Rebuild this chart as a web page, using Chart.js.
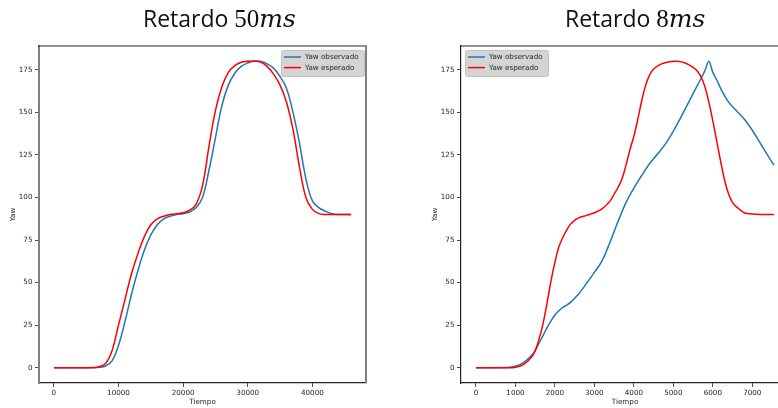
<!DOCTYPE html>
<html>
<head>
<meta charset="utf-8">
<script src="https://cdn.jsdelivr.net/npm/chart.js@4.4.1/dist/chart.umd.min.js"></script>
<style>
  html, body { margin: 0; padding: 0; background: #fff; }
  body { width: 778px; height: 408px; overflow: hidden; position: relative; }
  canvas { position: absolute; top: 0; }
  #c50 { left: 0; }
  #c8 { left: 422px; }
</style>
</head>
<body>
<canvas id="c50" width="389" height="408"></canvas>
<canvas id="c8" width="390" height="408"></canvas>
<script>
// 50 ms delay run
const t50 = [0, 1000, 2000, 3000, 4000, 5000, 6000, 7000, 8000, 9000,
  10000, 11000, 12000, 13000, 14000, 15000, 16000, 17000, 18000, 19000,
  20000, 21000, 22000, 23000, 24000, 25000, 26000, 27000, 28000, 29000,
  30000, 31000, 32000, 33000, 34000, 35000, 36000, 37000, 38000, 39000,
  40000, 41000, 42000, 43000, 44000, 45000, 46000];
const esperado50 = [0, 0, 0, 0, 0, 0, 0.1, 0.6, 2.5, 10,
  25, 40, 55, 67, 77, 84, 87.5, 89, 90, 90.5,
  91, 92.5, 96, 107, 130, 151, 165, 173.5, 177.5, 179.5,
  180, 180.2, 179.5, 177, 172.5, 166, 156, 140, 118, 100,
  93, 90.5, 90, 90, 90, 90, 90];
const observado50 = [0, 0, 0, 0, 0, 0, 0, 0.2, 1, 4,
  13, 27, 43, 57, 69, 78, 84, 87.5, 89, 90,
  90.5, 91.5, 94, 100, 116, 135, 154, 166, 173, 177,
  179, 180, 180, 178.5, 176, 171, 164, 150, 132, 111,
  98, 94, 92, 90.5, 90, 90, 90];

// 8 ms delay run
const tEsperado8 = [0, 800, 1000, 1200, 1400, 1500, 1600, 1700, 1800, 1900,
  2000, 2100, 2200, 2300, 2400, 2500, 2600, 2800, 3000, 3200,
  3400, 3500, 3600, 3700, 3800, 3900, 4000, 4100, 4200, 4300,
  4400, 4500, 4700, 4900, 5100, 5300, 5500, 5600, 5700, 5800,
  5900, 6000, 6100, 6200, 6300, 6400, 6500, 6600, 6800, 7000,
  7200, 7550];
const esperado8 = [0, 0, 0.3, 1.8, 6, 10, 17, 26, 38, 51,
  62, 71, 76.5, 81, 84.5, 86.5, 88, 89.5, 91, 93.5,
  98, 102, 106, 111, 119, 128, 136, 146, 157, 166,
  172, 175.5, 178.5, 179.8, 180, 179, 176.5, 174.5, 171, 165,
  156, 145, 133, 121, 110, 102, 97, 94.5, 91, 90.3,
  90, 90];
const tObservado8 = [0, 800, 1000, 1200, 1400, 1500, 1600, 1700, 1800, 1900,
  2000, 2100, 2200, 2300, 2400, 2500, 2600, 2800, 3000, 3200,
  3400, 3600, 3800, 4000, 4200, 4400, 4600, 4800, 5000, 5200,
  5400, 5600, 5800, 5900, 6000, 6100, 6200, 6400, 6600, 6800,
  7000, 7200, 7400, 7550];
const observado8 = [0, 0.1, 0.8, 3, 7, 10, 14.5, 19, 23.5, 27.5,
  31, 33.5, 35.5, 36.8, 38.5, 40.8, 43.3, 49.5, 56, 63,
  74, 86, 97, 105.5, 113, 120, 125.5, 131.5, 139, 147.5,
  156.5, 165.5, 174.5, 180, 173.5, 169, 164, 156, 151, 146,
  139.5, 132, 124.5, 119];

const yTicks = [0, 25, 50, 75, 100, 125, 150, 175];
const xTicks50 = [0, 10000, 20000, 30000, 40000];
const xTicks8 = [0, 1000, 2000, 3000, 4000, 5000, 6000, 7000];
const seriesNames = ['Yaw observado', 'Yaw esperado'];

const BLUE = '#1f77b4';
const RED = '#ff0000';
const tickFont = { family: 'DejaVu Sans', size: 7.2 };
const textColor = '#1e1e1e';

const pts = (xs, ys) => xs.map((x, i) => ({ x: x, y: ys[i] }));

// top + right spines (chart.js only draws the axis borders)
const frame = {
  id: 'frame',
  afterDraw(chart, args, o) {
    const { ctx, chartArea: a } = chart;
    ctx.save();
    ctx.strokeStyle = '#222';
    ctx.lineWidth = 1.2;
    ctx.beginPath(); ctx.moveTo(a.left - 1, a.top); ctx.lineTo(a.right + 1, a.top); ctx.stroke();
    ctx.strokeStyle = o.sideColor;
    ctx.lineWidth = o.sideWidth;
    ctx.beginPath(); ctx.moveTo(a.right, a.top); ctx.lineTo(a.right, a.bottom); ctx.stroke();
    ctx.restore();
  }
};

// title with the unit set in math italics
const heading = {
  id: 'heading',
  afterDraw(chart, args, o) {
    const ctx = chart.ctx;
    let x = o.x;
    ctx.save();
    ctx.fillStyle = '#111';
    ctx.textBaseline = 'alphabetic';
    o.parts.forEach(p => {
      ctx.font = p[1];
      ctx.fillText(p[0], x, o.y);
      x += ctx.measureText(p[0]).width;
    });
    ctx.restore();
  }
};

// matplotlib-like legend box
const boxLegend = {
  id: 'boxLegend',
  afterDraw(chart, args, o) {
    const { ctx, chartArea: a } = chart;
    const w = 83, h = 26;
    const x = o.align === 'right' ? a.right - 2 - w : a.left + 4;
    const y = a.top + 4;
    ctx.save();
    ctx.fillStyle = '#d4d4d4';
    ctx.strokeStyle = '#c2c2c2';
    ctx.lineWidth = 1;
    ctx.beginPath();
    ctx.roundRect(x + 0.5, y + 0.5, w, h, 2);
    ctx.fill();
    ctx.stroke();
    ctx.font = '7.2px "DejaVu Sans"';
    ctx.textBaseline = 'middle';
    [BLUE, RED].forEach((c, i) => {
      const ly = y + 7 + i * 10.6;
      ctx.strokeStyle = c;
      ctx.lineWidth = 1.5;
      ctx.beginPath(); ctx.moveTo(x + 3, ly); ctx.lineTo(x + 20, ly); ctx.stroke();
      ctx.fillStyle = textColor;
      ctx.fillText(seriesNames[i], x + 24, ly + 0.5);
    });
    ctx.restore();
  }
};

function scales(xMin, xMax, xTickVals, sideColor, sideWidth) {
  return {
    x: {
      type: 'linear', min: xMin, max: xMax,
      afterBuildTicks: s => { s.ticks = xTickVals.map(v => ({ value: v })); },
      afterFit: s => { s.height = 25; },
      grid: { drawOnChartArea: false, tickLength: 4, tickColor: '#222', tickWidth: 0.8 },
      border: { color: '#222', width: 1.2 },
      ticks: { font: tickFont, color: textColor, padding: 2, maxRotation: 0, autoSkip: false,
        callback: v => String(v) },
      title: { display: true, text: 'Tiempo', font: tickFont, color: textColor, padding: { top: 0, bottom: 2 } }
    },
    y: {
      type: 'linear', min: -9, max: 189,
      afterBuildTicks: s => { s.ticks = yTicks.map(v => ({ value: v })); },
      afterFit: s => { s.width = 39; },
      grid: { drawOnChartArea: false, tickLength: 4, tickColor: '#222', tickWidth: 0.8 },
      border: { color: sideColor, width: sideWidth },
      ticks: { font: tickFont, color: textColor, padding: 2.5, callback: v => String(v) },
      title: { display: true, text: 'Yaw', font: tickFont, color: textColor, padding: { top: 9, bottom: 0 } }
    }
  };
}

function makeChart(id, datasets, opts) {
  return new Chart(document.getElementById(id), {
    type: 'line',
    data: { datasets: datasets },
    plugins: [frame, heading, boxLegend],
    options: {
      responsive: false,
      animation: false,
      devicePixelRatio: 1,
      layout: { padding: { top: 46, right: 23, left: 0, bottom: 0 } },
      elements: { point: { radius: 0 }, line: { borderWidth: 1.5, tension: 0.4 } },
      scales: opts.scales,
      plugins: {
        legend: { display: false },
        tooltip: { enabled: false },
        frame: { sideColor: opts.sideColor, sideWidth: opts.sideWidth },
        heading: { x: 143, y: 27, parts: opts.title },
        boxLegend: { align: opts.legendAlign }
      }
    }
  });
}

makeChart('c50', [
  { label: seriesNames[1], data: pts(t50, esperado50), borderColor: RED, order: 0 },
  { label: seriesNames[0], data: pts(t50, observado50), borderColor: BLUE, order: 1 }
], {
  scales: scales(-2300, 48300, xTicks50, '#808080', 2),
  sideColor: '#808080', sideWidth: 2,
  legendAlign: 'right',
  title: [['Retardo ', '23px "Open Sans"'], ['50', '25px "Liberation Serif"'], ['ms', 'italic 25px "DejaVu Serif"']]
});

makeChart('c8', [
  { label: seriesNames[1], data: pts(tEsperado8, esperado8), borderColor: RED, order: 0 },
  // the observed trace has a sharp peak, keep it from being rounded off
  { label: seriesNames[0], data: pts(tObservado8, observado8), borderColor: BLUE, order: 1,
    cubicInterpolationMode: 'monotone' }
], {
  scales: scales(-380, 7930, xTicks8, '#222', 1.2),
  sideColor: '#222', sideWidth: 1.2,
  legendAlign: 'left',
  title: [['Retardo ', '23px "Open Sans"'], ['8', '25px "Liberation Serif"'], ['ms', 'italic 25px "DejaVu Serif"']]
});
</script>
</body>
</html>
